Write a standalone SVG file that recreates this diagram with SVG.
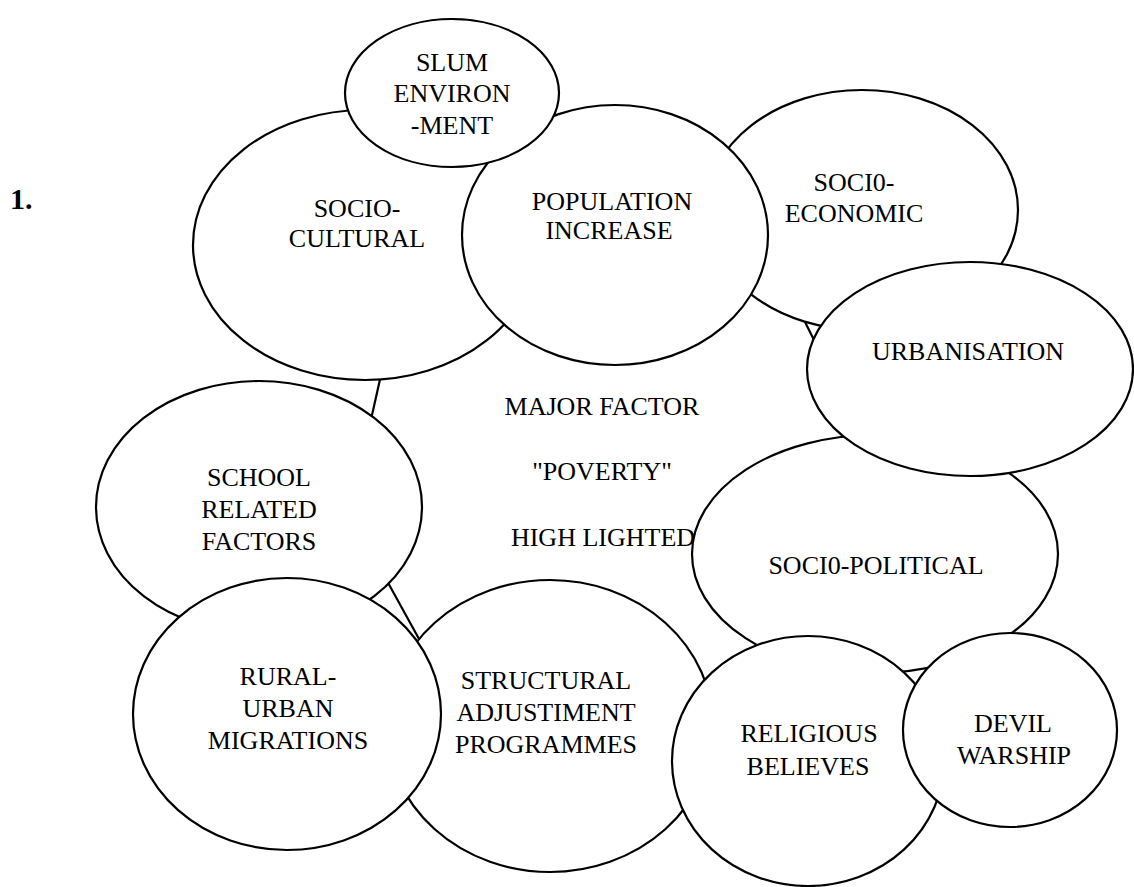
<svg xmlns="http://www.w3.org/2000/svg" width="1134" height="887" viewBox="0 0 1134 887">
  <style>
    .bubble { fill: #ffffff; stroke: #000000; stroke-width: 2.2; }
    .hub { fill: none; stroke: #000000; stroke-width: 2.2; stroke-linejoin: round; }
    .lbl { font-family: "Liberation Serif", "Times New Roman", serif; font-size: 26px; fill: #000000; text-anchor: middle; }
    .num { font-family: "Liberation Serif", "Times New Roman", serif; font-size: 30px; font-weight: bold; fill: #000000; }
  </style>
  <rect x="0" y="0" width="1134" height="887" fill="#ffffff"/>

  <text class="num" x="10" y="209">1.</text>

  <!-- central factor: outline runs behind the surrounding bubbles -->
  <g id="major-factor">
    <path class="hub" d="M383,366 L370,424 L381,570 L424,648 L600,770 L808,800 L1000,760 L900,600 L960,420 L818,348 L798,308 L700,200 L500,230 Z"/>
    <text class="lbl" x="602" y="415">MAJOR FACTOR</text>
    <text class="lbl" x="602" y="480">"POVERTY"</text>
    <text class="lbl" x="603" y="546">HIGH LIGHTED</text>
  </g>

  <g id="connectors"></g>

  <g id="socio-economic">
    <ellipse class="bubble" cx="862" cy="210" rx="156" ry="120"/>
    <text class="lbl" x="854" y="191">SOCI0-</text>
    <text class="lbl" x="854" y="222">ECONOMIC</text>
  </g>

  <g id="socio-political">
    <ellipse class="bubble" cx="875" cy="554" rx="183" ry="119"/>
    <text class="lbl" x="876" y="574">SOCI0-POLITICAL</text>
  </g>

  <g id="socio-cultural">
    <ellipse class="bubble" cx="365" cy="245" rx="172" ry="135"/>
    <text class="lbl" x="357" y="217">SOCIO-</text>
    <text class="lbl" x="357" y="247">CULTURAL</text>
  </g>

  <g id="population-increase">
    <ellipse class="bubble" cx="615" cy="235" rx="153" ry="130"/>
    <text class="lbl" x="612" y="210">POPULATION</text>
    <text class="lbl" x="609" y="239">INCREASE</text>
  </g>

  <g id="slum-environment">
    <ellipse class="bubble" cx="452" cy="93" rx="107" ry="74"/>
    <text class="lbl" x="452" y="71">SLUM</text>
    <text class="lbl" x="452" y="102">ENVIRON</text>
    <text class="lbl" x="452" y="134">-MENT</text>
  </g>

  <g id="urbanisation">
    <ellipse class="bubble" cx="970" cy="369" rx="163" ry="107"/>
    <text class="lbl" x="968" y="360">URBANISATION</text>
  </g>

  <g id="school-related-factors">
    <ellipse class="bubble" cx="259" cy="507" rx="163" ry="126"/>
    <text class="lbl" x="259" y="486">SCHOOL</text>
    <text class="lbl" x="259" y="518">RELATED</text>
    <text class="lbl" x="259" y="550">FACTORS</text>
  </g>

  <g id="structural-adjustment">
    <ellipse class="bubble" cx="550" cy="726" rx="163" ry="146"/>
    <text class="lbl" x="546" y="689">STRUCTURAL</text>
    <text class="lbl" x="546" y="721">ADJUSTIMENT</text>
    <text class="lbl" x="546" y="753">PROGRAMMES</text>
  </g>

  <g id="rural-urban-migrations">
    <ellipse class="bubble" cx="287" cy="714" rx="154" ry="136"/>
    <text class="lbl" x="288" y="685">RURAL-</text>
    <text class="lbl" x="288" y="717">URBAN</text>
    <text class="lbl" x="288" y="749">MIGRATIONS</text>
  </g>

  <g id="religious-believes">
    <ellipse class="bubble" cx="808" cy="761" rx="136" ry="125"/>
    <text class="lbl" x="809" y="742">RELIGIOUS</text>
    <text class="lbl" x="808" y="775">BELIEVES</text>
  </g>

  <g id="devil-warship">
    <ellipse class="bubble" cx="1010" cy="730" rx="107" ry="97"/>
    <text class="lbl" x="1013" y="732">DEVIL</text>
    <text class="lbl" x="1014" y="764">WARSHIP</text>
  </g>
</svg>
